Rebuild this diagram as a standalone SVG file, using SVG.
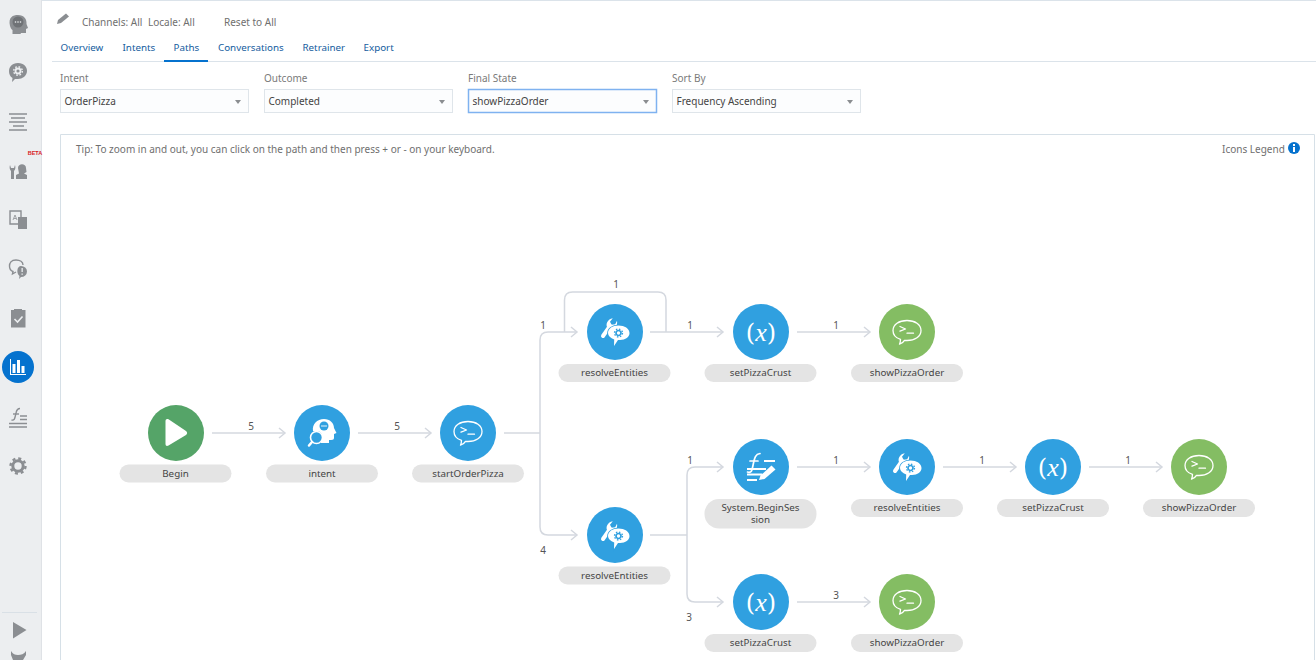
<svg xmlns="http://www.w3.org/2000/svg" xmlns:xlink="http://www.w3.org/1999/xlink" width="1316" height="660" viewBox="0 0 1316 660">
<style>
text{font-family:"Noto Sans","Open Sans","Liberation Sans",sans-serif;font-size:10px;fill:#444}
.c{text-anchor:middle;font-size:9.800px}
.tab{fill:#145c9e;font-size:9.800px}
.lbl{fill:#7a7a7a}
.top{fill:#6f6f6f}
.sel{fill:#fcfdfe;stroke:#dfe5ea;stroke-width:1}
.caret{fill:#8a8d90}
.pill{fill:#e4e4e4}
.edge{fill:none;stroke:#d4d8df;stroke-width:1.500;stroke-linejoin:round}
.num{fill:#555;text-anchor:middle}
.blue{fill:#30a0e0}
.green{fill:#55a468}
.lime{fill:#84bd63}
.ws{fill:none;stroke:#fff;stroke-width:1.300;stroke-linecap:round;stroke-linejoin:round}
.wf{fill:#fff}
.sb{fill:#8b8e92}
.sbs{fill:none;stroke:#8b8e92;stroke-width:1.400}
</style>
<defs>
<marker id="arr" markerWidth="10" markerHeight="12" refX="7" refY="6" orient="auto" markerUnits="userSpaceOnUse"><path d="M1 1L7 6L1 11" fill="none" stroke="#d4d8df" stroke-width="1.500"/></marker>
<symbol id="chat" overflow="visible" viewBox="-28 -28 56 56" x="-28" y="-28" width="56" height="56">
<path class="ws" d="M-6.500 7.300C-11 6-14 2.500-14-1.500C-14-7.500-8-11.500 0-11.500C8-11.500 14-7.500 14-1.500C14 4.500 8 8.500 0 8.500C-1 8.500-2 8.400-2.500 8.300C-3.500 10-5.500 11.500-7.500 12.200C-6.800 10.500-6.500 9-6.500 7.300Z"/>
<path class="ws" d="M-7-5.500L-1.500-3L-7-.8M0 1.200H6.500"/>
</symbol>
<symbol id="tool" overflow="visible" viewBox="-28 -28 56 56" x="-28" y="-28" width="56" height="56">
<path d="M-12 4L-5-6" stroke="#fff" stroke-width="4" stroke-linecap="round" fill="none"/>
<path class="wf" d="M-7.800-4.500C-9.500-8-7.500-12.800-2.200-13.700L-5-10.200L-3.400-7.300L.2-7.800L2-11.300C2.800-7.500.6-3.300-3.500-2.300Z"/>
<path class="wf" stroke="#30a0e0" stroke-width="1.600" paint-order="stroke" d="M3.500-6.500C9.500-6.500 14.500-3.500 14.500 1C14.500 5 10.500 8 5 8L3 8L-1 14L-.8 7.500C-4.500 6-7 3.800-7 1C-7-3.500-2.500-6.500 3.500-6.500Z"/>
<circle cx="3.500" cy="1" r="2.500" fill="none" stroke="#30a0e0" stroke-width="1.700"/>
<circle cx="3.500" cy="1" r="4" fill="none" stroke="#30a0e0" stroke-width="1.300" stroke-dasharray="1.500 1.640"/>
</symbol>
<symbol id="var" overflow="visible" viewBox="-28 -28 56 56" x="-28" y="-28" width="56" height="56">
<text x="0" y="9" text-anchor="middle" style="font-family:'DejaVu Serif','Liberation Serif',serif;font-size:24px;fill:#fff">(<tspan font-style="italic" style="font-family:'Liberation Serif',serif;font-size:26px;fill:#fff">x</tspan>)</text>
</symbol>
</defs>

<rect width="1316" height="660" fill="#fff"/>
<rect x="0" y="0" width="1316" height="1" fill="#dbe3ea"/>

<g id="sidebar">
<rect x="0" y="0" width="41" height="660" fill="#eceef0"/>
<rect x="41" y="0" width="1" height="660" fill="#dfe2e6"/>
<path class="sb" d="M10 26C8 17 13 15 18 15C24 15 27 19 26.500 24L28 28L26 29V33H21L20.500 34H12.500V30C11 29 10.500 27.500 10 26Z"/>
<circle cx="18" cy="22" r="5.500" fill="#6f7276"/>
<circle cx="15.500" cy="22" r=".8" fill="#eceef0"/><circle cx="18" cy="22" r=".8" fill="#eceef0"/><circle cx="20.500" cy="22" r=".8" fill="#eceef0"/>
<path class="sb" d="M18 63C24 63 27 67 27 71C27 76 22 79 18 79L15 79L12 82L12.500 78C10 76.500 9 74 9 71C9 67 12 63 18 63Z"/>
<circle cx="18" cy="71" r="2.500" fill="none" stroke="#eceef0" stroke-width="1.800"/>
<circle cx="18" cy="71" r="4.300" fill="none" stroke="#eceef0" stroke-width="1.400" stroke-dasharray="1.700 1.680"/>
<path class="sbs" d="M9 114H27M11 118H25M9 122H27M13 126H24M9 130H27" stroke-width="1.300"/>
<path class="sb" d="M11 173H14V179H11ZM10 165L11 168H14L15 165C16 168 15 170 14 171V173H11V171C10 170 9 168 10 165Z"/>
<path class="sb" d="M18 168C18 163 26 163 26 168L26.500 172L24 173.500L27 175V179H16V175L19 173.500Z"/>
<text x="35" y="155" class="c" style="font-size:5.500px;font-weight:700;fill:#d8181f;font-family:'Liberation Sans',sans-serif">BETA</text>
<path class="sbs" d="M10 211H21V224H10Z" stroke-width="1"/>
<path class="sb" d="M18 217H27V229H18Z"/>
<path d="M13 220L15 215L17 220M14 218.500H16" fill="none" stroke="#8b8e92" stroke-width=".8"/>
<path class="sbs" d="M16 260C11 260 9.500 263 9.500 266C9.500 269 11.500 271 13 271.500L12.500 274L16 272" stroke-width="1"/>
<path class="sbs" d="M16 260C20 260 23 262 23 265" stroke-width="1"/>
<path class="sb" d="M21 266A6 5.500 0 1 1 21 277L19 279L19.500 276C16 273 17 266 21 266Z"/>
<rect x="21.500" y="268" width="1.300" height="4" fill="#eceef0"/><rect x="21.500" y="273.500" width="1.300" height="1.300" fill="#eceef0"/>
<path class="sb" d="M11 310H14V309H22V310H25.500V327.500H11Z"/>
<path d="M14.500 319L17.500 322L22.500 316.500" fill="none" stroke="#eceef0" stroke-width="1.600"/>
<circle cx="18" cy="367" r="16" fill="#0572ce"/>
<path class="wf" d="M10 359H11V374H10ZM12.500 364H15.500V373H12.500ZM17 360H20V373H17ZM21.500 366H24.500V373H21.500ZM10 374H26V375H10Z"/>
<path class="sbs" d="M9 427H27M9 423.500H27M20 416H27M20 419.500H27M11.500 420C15 421 15 417 16 413C16.500 410.500 18 408.500 20 408.500" stroke-width="1.200"/>
<path class="sbs" d="M13 414H19" stroke-width="1"/>
<circle cx="18" cy="466" r="5.200" fill="none" stroke="#8b8e92" stroke-width="3"/>
<circle cx="18" cy="466" r="7.500" fill="none" stroke="#8b8e92" stroke-width="2.400" stroke-dasharray="3 2.890"/>
<rect x="2" y="612" width="35" height="1" fill="#d9e0e6"/>
<path class="sb" d="M13 622L26.500 630L13 638.500Z"/>
<path class="sb" d="M11 651C13 654 15 655 18 655C21 655 24 654 26 651L26 655L23 660H13L11 655Z"/>
</g>

<g id="header">
<path class="sb" d="M57 24L58 20L66 13.500L69 16.500L61 23Z"/>
<text x="82" y="26" class="top">Channels: All</text>
<text x="148" y="26" class="top">Locale: All</text>
<text x="224" y="26" class="top">Reset to All</text>
<text x="60.500" y="51" class="tab">Overview</text>
<text x="122.500" y="51" class="tab">Intents</text>
<text x="173.500" y="51" class="tab">Paths</text>
<text x="218" y="51" class="tab">Conversations</text>
<text x="302.500" y="51" class="tab">Retrainer</text>
<text x="363.500" y="51" class="tab">Export</text>
<rect x="52" y="61" width="1264" height="1" fill="#dbe3ea"/>
<rect x="164" y="60" width="44" height="2" fill="#0572ce"/>
</g>

<g id="filters">
<text x="60" y="82" class="lbl">Intent</text>
<rect class="sel" x="60.500" y="89.500" width="188" height="23"/>
<text x="64.500" y="105">OrderPizza</text>
<path class="caret" d="M235 100H241L238 104Z"/>
<text x="264" y="82" class="lbl">Outcome</text>
<rect class="sel" x="264.500" y="89.500" width="188" height="23"/>
<text x="268.500" y="105">Completed</text>
<path class="caret" d="M439 100H445L442 104Z"/>
<text x="468" y="82" class="lbl">Final State</text>
<rect class="sel" x="468.500" y="89.500" width="188" height="23" style="stroke:#7fb2f0;stroke-width:1.500"/>
<text x="472.500" y="105">showPizzaOrder</text>
<path class="caret" d="M643 100H649L646 104Z"/>
<text x="672" y="82" class="lbl">Sort By</text>
<rect class="sel" x="672.500" y="89.500" width="188" height="23"/>
<text x="676.500" y="105">Frequency Ascending</text>
<path class="caret" d="M847 100H853L850 104Z"/>
</g>

<g id="panel">
<path d="M60.500 660V134.500H1314.500V660" fill="none" stroke="#d6e0e7"/>
<text x="76" y="153" class="top">Tip: To zoom in and out, you can click on the path and then press + or - on your keyboard.</text>
<text x="1222" y="153" class="top">Icons Legend</text>
<circle cx="1294" cy="148" r="6" fill="#0572ce"/>
<rect x="1293" y="147" width="2" height="5" fill="#fff"/><rect x="1293" y="144" width="2" height="2" fill="#fff"/>
</g>

<g id="connectors">
<path class="edge" d="M212 433H285" marker-end="url(#arr)"/>
<path class="edge" d="M358 433H431" marker-end="url(#arr)"/>
<path class="edge" d="M504 433H540"/>
<path class="edge" d="M540 433V340Q540 332 548 332H577" marker-end="url(#arr)"/>
<path class="edge" d="M540 433V527Q540 535 548 535H577" marker-end="url(#arr)"/>
<path class="edge" d="M564.500 332V300Q564.500 292 572.500 292H658Q666 292 666 300V332"/>
<path class="edge" d="M650 332H723" marker-end="url(#arr)"/>
<path class="edge" d="M797 332H870" marker-end="url(#arr)"/>
<path class="edge" d="M650 535H687"/>
<path class="edge" d="M687 535V475Q687 467 695 467H723" marker-end="url(#arr)"/>
<path class="edge" d="M687 535V594Q687 602 695 602H723" marker-end="url(#arr)"/>
<path class="edge" d="M797 467H870" marker-end="url(#arr)"/>
<path class="edge" d="M943 467H1016" marker-end="url(#arr)"/>
<path class="edge" d="M1089 467H1162" marker-end="url(#arr)"/>
<path class="edge" d="M797 602H870" marker-end="url(#arr)"/>
<text class="num" x="251" y="430">5</text>
<text class="num" x="397" y="430">5</text>
<text class="num" x="543" y="329">1</text>
<text class="num" x="616" y="288">1</text>
<text class="num" x="690" y="329">1</text>
<text class="num" x="836" y="329">1</text>
<text class="num" x="543" y="554">4</text>
<text class="num" x="690" y="464">1</text>
<text class="num" x="836" y="464">1</text>
<text class="num" x="982" y="464">1</text>
<text class="num" x="1128" y="464">1</text>
<text class="num" x="689" y="621">3</text>
<text class="num" x="836" y="599">3</text>
</g>

<g id="node-begin">
<circle class="green" cx="176" cy="433" r="28"/>
<path d="M165.500 421C165.500 419 167 418.500 168.500 419.300L186 431C187.500 432 187.500 434 186 435L168.500 445.500C167 446.400 165.500 446 165.500 444Z" fill="#fff"/>
<rect class="pill" x="119.500" y="464.500" width="112" height="18" rx="9"/><text class="c" x="175.500" y="477">Begin</text>
</g>
<g id="node-intent">
<circle class="blue" cx="322" cy="433" r="28"/>
<path class="wf" d="M313 431C312 424 317 419 324 419C330 419 334 423 334 428L336.500 433L334 434V438C334 440 332 440 329 440V443H321V441C323 436 322 432 318 431Z"/>
<circle cx="324" cy="426" r="4.500" class="blue"/>
<circle cx="322" cy="426" r=".8" fill="#fff"/><circle cx="324" cy="426" r=".8" fill="#fff"/><circle cx="326" cy="426" r=".8" fill="#fff"/>
<circle cx="316.500" cy="437.500" r="6" fill="#30a0e0" stroke="#fff" stroke-width="1.600"/>
<path d="M312 442L309 445.500" stroke="#fff" stroke-width="2.500" stroke-linecap="round"/>
<rect class="pill" x="266" y="464.500" width="112" height="18" rx="9"/><text class="c" x="322" y="477">intent</text>
</g>
<g id="node-startOrderPizza">
<circle class="blue" cx="468" cy="433" r="28"/>
<use xlink:href="#chat" href="#chat" transform="translate(468 433)"/>
<rect class="pill" x="412" y="464.500" width="112" height="18" rx="9"/><text class="c" x="468" y="477">startOrderPizza</text>
</g>
<g id="node-resolveEntities-1">
<circle class="blue" cx="615" cy="332" r="28"/>
<use xlink:href="#tool" href="#tool" transform="translate(615 332)"/>
<rect class="pill" x="558.500" y="364" width="112" height="18" rx="9"/><text class="c" x="614.500" y="376">resolveEntities</text>
</g>
<g id="node-setPizzaCrust-1">
<circle class="blue" cx="761" cy="332" r="28"/>
<use xlink:href="#var" href="#var" transform="translate(761 332)"/>
<rect class="pill" x="704.500" y="364" width="112" height="18" rx="9"/><text class="c" x="760.500" y="376">setPizzaCrust</text>
</g>
<g id="node-showPizzaOrder-1">
<circle class="lime" cx="907" cy="332" r="28"/>
<use xlink:href="#chat" href="#chat" transform="translate(907 332)"/>
<rect class="pill" x="851" y="364" width="112" height="18" rx="9"/><text class="c" x="907" y="376">showPizzaOrder</text>
</g>
<g id="node-resolveEntities-2">
<circle class="blue" cx="615" cy="535" r="28"/>
<use xlink:href="#tool" href="#tool" transform="translate(615 535)"/>
<rect class="pill" x="558.500" y="566.500" width="112" height="18" rx="9"/><text class="c" x="614.500" y="579">resolveEntities</text>
</g>
<g id="node-SystemBeginSession">
<circle class="blue" cx="761" cy="467" r="28"/>
<path class="ws" style="stroke-width:1.700" d="M747.500 472C752 473.500 752 470 753.500 463C754.500 458 755.500 454 760 453.500M750 461H758"/>
<path class="ws" style="stroke-width:2;stroke-linecap:butt" d="M764 461H775M747 469H766M747 474.500H762M747 480H757"/>
<path class="wf" d="M759 480L760.500 475.500L771.500 465.500L775.500 469.500L764.500 479Z"/>
<rect class="pill" x="704.500" y="499" width="112" height="29.500" rx="14.500"/><text class="c" x="760.500" y="511">System.BeginSes</text><text class="c" x="760.500" y="523">sion</text>
</g>
<g id="node-resolveEntities-3">
<circle class="blue" cx="907" cy="467" r="28"/>
<use xlink:href="#tool" href="#tool" transform="translate(907 467)"/>
<rect class="pill" x="851" y="499" width="112" height="18" rx="9"/><text class="c" x="907" y="511">resolveEntities</text>
</g>
<g id="node-setPizzaCrust-2">
<circle class="blue" cx="1053" cy="467" r="28"/>
<use xlink:href="#var" href="#var" transform="translate(1053 467)"/>
<rect class="pill" x="997" y="499" width="112" height="18" rx="9"/><text class="c" x="1053" y="511">setPizzaCrust</text>
</g>
<g id="node-showPizzaOrder-2">
<circle class="lime" cx="1199" cy="467" r="28"/>
<use xlink:href="#chat" href="#chat" transform="translate(1199 467)"/>
<rect class="pill" x="1143" y="499" width="112" height="18" rx="9"/><text class="c" x="1199" y="511">showPizzaOrder</text>
</g>
<g id="node-setPizzaCrust-3">
<circle class="blue" cx="761" cy="602" r="28"/>
<use xlink:href="#var" href="#var" transform="translate(761 602)"/>
<rect class="pill" x="704.500" y="634" width="112" height="18" rx="9"/><text class="c" x="760.500" y="646">setPizzaCrust</text>
</g>
<g id="node-showPizzaOrder-3">
<circle class="lime" cx="907" cy="602" r="28"/>
<use xlink:href="#chat" href="#chat" transform="translate(907 602)"/>
<rect class="pill" x="851" y="634" width="112" height="18" rx="9"/><text class="c" x="907" y="646">showPizzaOrder</text>
</g>
</svg>
